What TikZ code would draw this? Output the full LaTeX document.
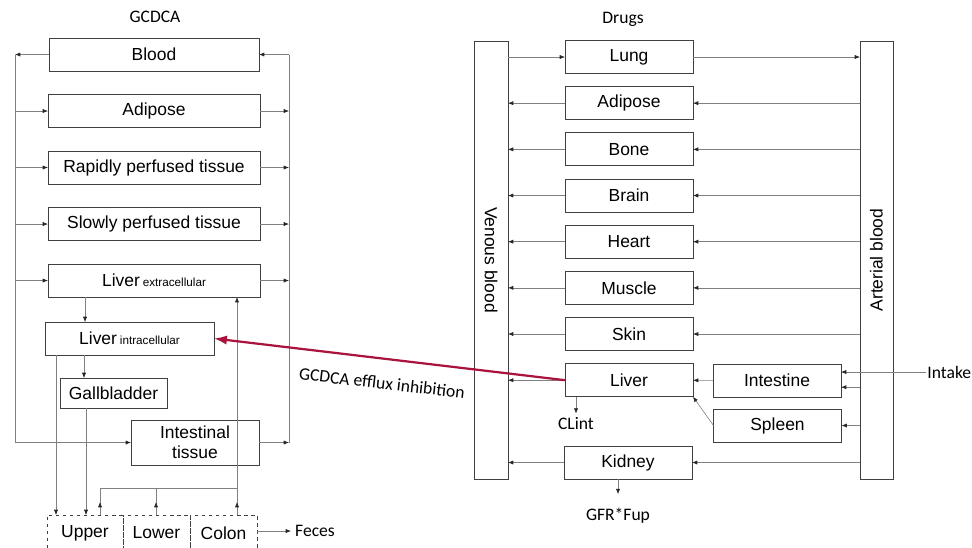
\documentclass[tikz,border=0pt]{standalone}
\usepackage{fontspec}
\setmainfont{Liberation Sans}
\newfontfamily\calib{Carlito}
\usetikzlibrary{arrows.meta,positioning}
\definecolor{inhib}{RGB}{170,20,60}

\begin{document}
\begin{tikzpicture}[x=0.03cm,y=-0.03cm,>={Latex[length=4.5pt,width=3.5pt,color=black!85]},
                    line width=0.5pt,node distance=1.385cm,
                    font=\fontsize{14.9}{17}\selectfont]
  \tikzstyle{box}=[draw=black!75,line width=0.8pt,inner sep=2pt,outer sep=0pt]
  \tikzstyle{gbox}=[box,minimum width=6.36cm,minimum height=0.99cm]
  \tikzstyle{organ}=[box,minimum width=3.84cm,minimum height=0.99cm]
  \tikzstyle{gut}=[box,dashed,minimum height=1.08cm]
  \tikzstyle{lbl}=[font=\calib\fontsize{15}{18}\selectfont]
  \tikzstyle{link}=[draw=black!50]

  \useasboundingbox (0,0) rectangle (972,547);

  % GCDCA model
  \node[lbl] (gtitle) at (155,17) {GCDCA};
  \node[gbox,minimum width=6.3cm] (blood) at (154,54.5) {Blood};
  \node[gbox] (adip)   [below of=blood,node distance=1.695cm] {Adipose};
  \node[gbox] (rapid)  [below of=adip,node distance=1.695cm]  {Rapidly perfused tissue};
  \node[gbox] (slow)   [below of=rapid,node distance=1.695cm] {Slowly perfused tissue};
  \node[gbox] (livext) [below of=slow,node distance=1.695cm]  {Liver\,{\fontsize{10}{12}\selectfont extracellular}};
  \node[box,minimum width=5.07cm,minimum height=0.99cm] (livint) at (129.5,338.5) {Liver\,{\fontsize{10}{12}\selectfont intracellular}};
  \node[box,minimum width=3.21cm,minimum height=0.9cm] (gall) at (113.5,393) {Gallbladder};
  \node[box,minimum width=3.84cm,minimum height=1.35cm,align=center] (inttis) at (195,442.5) {Intestinal\\tissue};

  \node[gut,minimum width=2.28cm] (upper) at (85,533) {Upper};
  \node[gut,minimum width=2.01cm] (lower) [right=0pt of upper] {Lower};
  \node[gut,minimum width=2.01cm] (colon) [right=0pt of lower] {Colon};
  \node[lbl,anchor=west] (feces) at (291,531) {Feces};

  \coordinate (lt) at (15,54.5);
  \coordinate (lb) at (15,442.5);
  \coordinate (rt) at (289,54.5);
  \coordinate (rb) at (289,442.5);
  \draw[link] (lt) -- (lb);
  \draw[link] (rt) -- (rb);
  \draw[link,->] (blood) -- (lt);
  \draw[link,->] (rt) -- (blood);
  \foreach \n in {adip,rapid,slow,livext,inttis}
  { \draw[link,->] (\n.west -| lt) -- (\n.west);
    \draw[link,->] (\n.east) -- (\n.east -| rt); }

  \draw[link,->] ([xshift=1.11cm]livext.south west) -- ([xshift=1.11cm]livext.south west |- livint.north);
  \draw[link,->] ([xshift=1.17cm]livint.south west) -- ([xshift=1.17cm]livint.south west |- gall.north);
  \draw[link,->] ([xshift=0.33cm]livint.south west) -- ([xshift=0.33cm]livint.south west |- upper.north);
  \draw[link,->] ([xshift=0.78cm]gall.south west) -- ([xshift=0.78cm]gall.south west |- upper.north);

  \coordinate (h1) at (100,488);
  \coordinate (h2) at (156,488);
  \coordinate (h3) at (237,488);
  \foreach \h in {h1,h2,h3}
  { \draw[link] (upper.north -| \h) -- (\h);
    \draw[link,->] (upper.north -| \h) -- ++(0,-13); }
  \draw[link,->] (h1) -- (h3) -- (h3 |- livext.south);
  \draw[link,->] (colon.east |- feces.west) -- (feces.west);

  % drug model
  \node[lbl] (dtitle) at (623,19) {Drugs};
  \node[box,minimum width=1.02cm,minimum height=13.14cm] (venous) at (491,260) {};
  \node[rotate=-90] (vtext) at (venous) {Venous blood};
  \node[box,minimum width=0.99cm,minimum height=13.14cm] (arterial) at (876.5,260) {};
  \node[rotate=90] (atext) at (arterial) {Arterial blood};

  \node[organ] (lung) at (629,57) {Lung};
  \node[organ] (adipD)  [below of=lung]   {Adipose};
  \node[organ] (bone)   [below of=adipD]  {Bone};
  \node[organ] (brain)  [below of=bone]   {Brain};
  \node[organ] (heart)  [below of=brain]  {Heart};
  \node[organ] (muscle) [below of=heart]  {Muscle};
  \node[organ] (skin)   [below of=muscle] {Skin};
  \node[organ] (liver)  [below of=skin]   {Liver};
  \node[organ] (kidney) at (628,462.5) {Kidney};
  \node[organ] (intest) at (777,380.5) {Intestine};
  \node[organ] (spleen) at (777.5,425.5) {Spleen};
  \node[lbl] (clint) at (576,424) {CLint};
  \node[lbl] (gfr) at (618,516) {GFR*Fup};
  \node[lbl,anchor=west,inner sep=1pt] (intake) at (926,372) {Intake};

  \draw[link,->] (lung -| venous.east) -- (lung);
  \draw[link,->] (lung) -- (lung -| arterial.west);
  \foreach \n in {adipD,bone,brain,heart,muscle,skin,kidney}
  { \draw[link,->] (\n -| arterial.west) -- (\n);
    \draw[link,->] (\n) -- (\n -| venous.east); }
  \draw[link,->] (liver) -- (liver -| venous.east);
  \draw[link,->] (intest) -- (liver);
  \draw[link,->] (spleen -| arterial.west) -- (spleen);
  \draw[link,->] (spleen.west) -- (liver.south east);
  \draw[link,->] (intake.west) -- (intake.west -| intest.east);
  \draw[link,->] ([yshift=-0.2cm]intest.east -| arterial.west) -- ([yshift=-0.2cm]intest.east);
  \draw[link,->] (liver.south -| clint) -- (clint.north);
  \draw[link,->] (kidney.south -| gfr) -- ([yshift=0.3cm]gfr.north);

  % inhibition link
  \draw[inhib,line width=1.9pt,-{Latex[length=11pt,width=8pt]}] (liver.west) -- (livint.east);
  \node[lbl,rotate=-6.5] (inhtext) at (382,383) {GCDCA efflux inhibition};
\end{tikzpicture}
\end{document}
